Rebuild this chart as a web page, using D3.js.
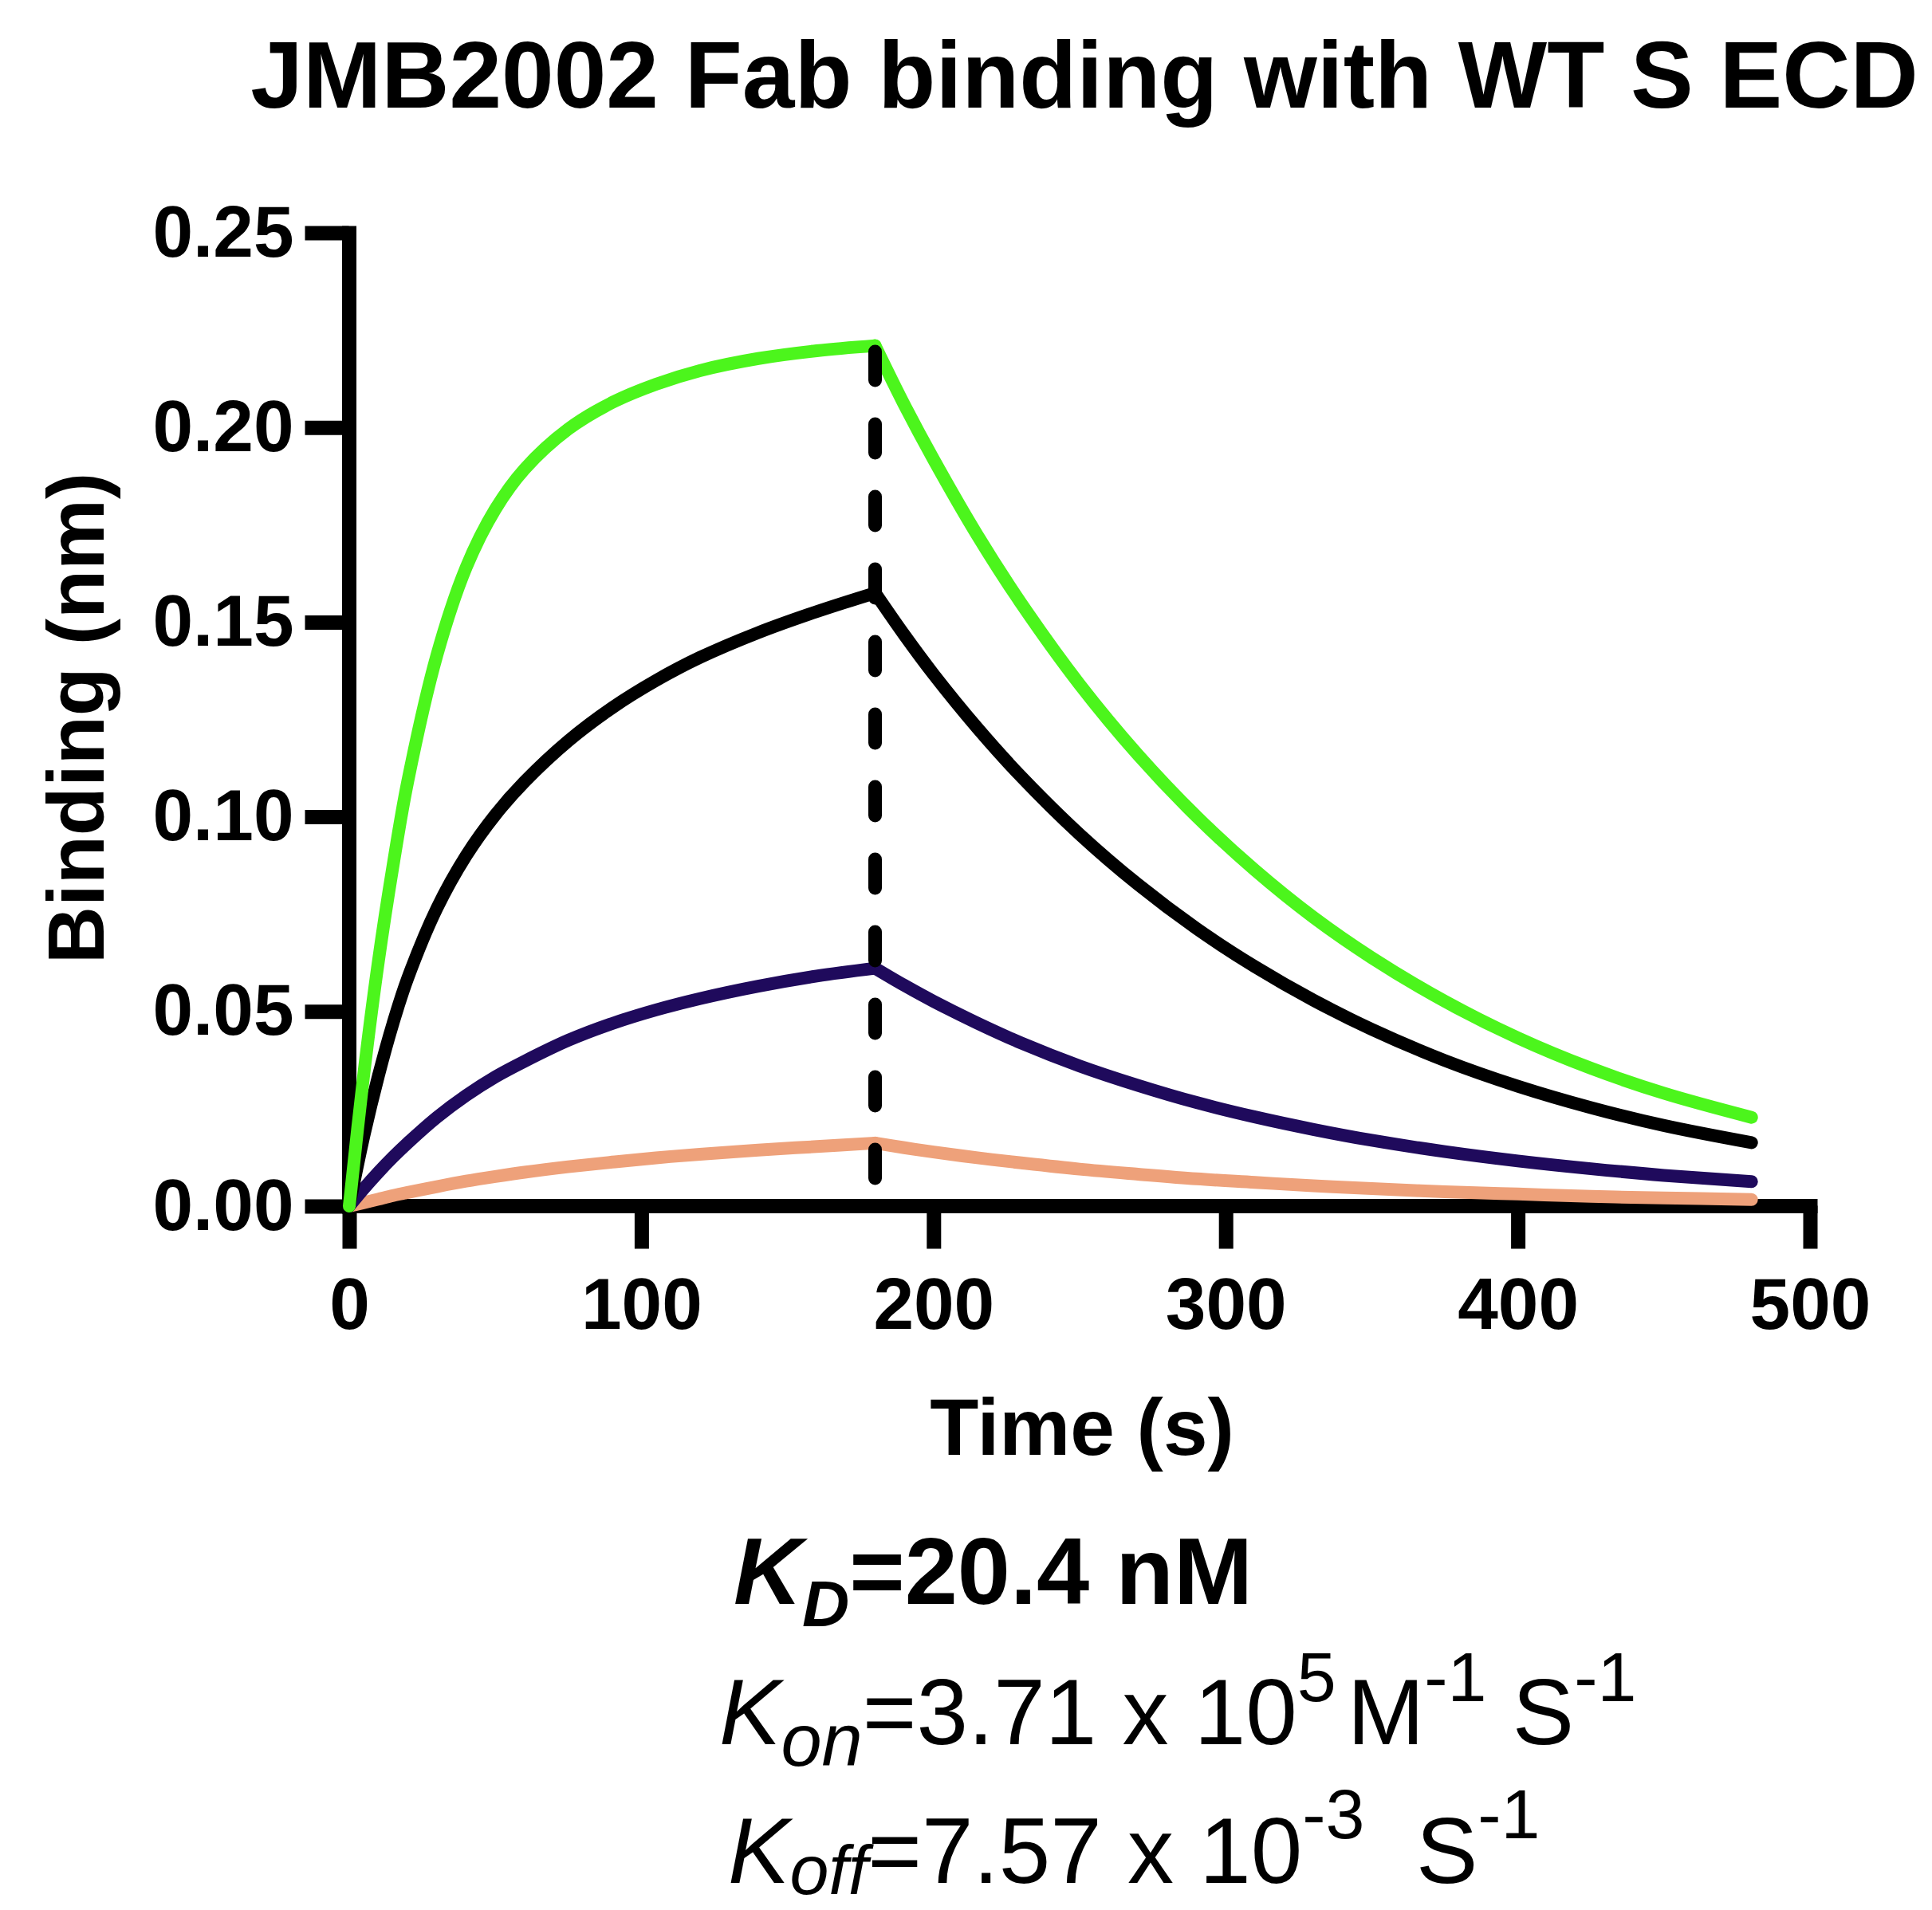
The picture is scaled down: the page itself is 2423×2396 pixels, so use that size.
<!DOCTYPE html>
<html>
<head>
<meta charset="utf-8">
<script src="https://cdn.jsdelivr.net/npm/d3@7"></script>
<style>
  html, body { margin: 0; padding: 0; background: #ffffff; }
  svg { display: block; }
  text { font-family: "Liberation Sans", Arial, Helvetica, sans-serif; fill: #000; }
</style>
</head>
<body>
<svg id="chart" width="2423" height="2396"></svg>
<script>
// ---------------- data ----------------
const titleText = "JMB2002 Fab binding with WT S ECD";
const xLabel = "Time (s)";
const yLabel = "Binding (nm)";
const xTicks = [0, 100, 200, 300, 400, 500];
const yTicks = [0.00, 0.05, 0.10, 0.15, 0.20, 0.25];
const yTickLabels = ["0.00", "0.05", "0.10", "0.15", "0.20", "0.25"];

const assocTime  = [0, 5, 10, 15, 20, 30, 40, 50, 60, 75, 90, 105, 120, 140, 160, 180];
const dissocTime = [180, 190, 200, 215, 230, 250, 270, 290, 310, 330, 350, 375, 400, 425, 450, 480];

const greenAssoc   = [0, 0.034, 0.063, 0.0875, 0.109, 0.1415, 0.164, 0.179, 0.1893, 0.1996, 0.2064, 0.2111, 0.2146, 0.2177, 0.2197, 0.2210];
const greenDissoc  = [0.2210, 0.2058, 0.1918, 0.1723, 0.1548, 0.1340, 0.1159, 0.1001, 0.0863, 0.0742, 0.0638, 0.0526, 0.0432, 0.0354, 0.0290, 0.0228];
const blackAssoc   = [0, 0.018, 0.0335, 0.047, 0.0585, 0.0765, 0.090, 0.1005, 0.109, 0.1195, 0.128, 0.135, 0.1409, 0.1473, 0.1527, 0.1575];
const blackDissoc  = [0.1575, 0.1467, 0.1366, 0.1228, 0.1103, 0.0955, 0.0826, 0.0713, 0.0615, 0.0529, 0.0454, 0.0374, 0.0308, 0.0253, 0.0207, 0.0163];
const purpleAssoc  = [0, 0.0045, 0.0087, 0.0126, 0.0162, 0.0228, 0.0284, 0.0332, 0.0372, 0.0426, 0.0469, 0.0504, 0.0533, 0.0565, 0.0591, 0.0611];
const purpleDissoc = [0.0611, 0.0567, 0.0526, 0.0470, 0.0419, 0.0360, 0.0310, 0.0266, 0.0229, 0.0197, 0.0169, 0.0140, 0.0116, 0.0096, 0.0079, 0.0063];
const orangeAssoc  = [0, 0.0009, 0.0018, 0.0027, 0.0035, 0.0050, 0.0064, 0.0076, 0.0087, 0.0101, 0.0113, 0.0124, 0.0133, 0.0144, 0.0153, 0.0162];
const orangeDissoc = [0.0162, 0.0150, 0.0139, 0.0124, 0.0111, 0.0095, 0.0082, 0.0070, 0.0061, 0.0052, 0.0045, 0.0037, 0.0031, 0.0025, 0.0021, 0.0017];

const seriesNames  = ["orange", "purple", "black", "green"];
const seriesColors = ["#eea17a", "#1f0a5c", "#000000", "#4cf51c"];

// dashed marker at end of association
const switchTime = 180;
const switchRange = [0.0037, 0.2195];

// annotation: [text, kind, extra horizontal nudge]
const kdLine   = [["K", "main", 0], ["D", "sub", 0], ["=20.4 nM", "main", 0]];
const konLine  = [["K", "main", 0], ["on", "sub", 0], ["=3.71 x 10", "main", 0], ["5", "sup", 0], ["M", "main", 14], ["-1", "sup", 0], [" S", "main", 0], ["-1", "sup", 0]];
const koffLine = [["K", "main", 0], ["off", "sub", 0], ["=7.57 x 10", "main", 0], ["-3", "sup", 0], ["\u00a0\u00a0S", "main", 0], ["-1", "sup", 0]];

// ---------------- drawing ----------------
const svg = d3.select("#chart");
svg.append("rect").attr("width", 2423).attr("height", 2396).attr("fill", "#fff");

const x = d3.scaleLinear().domain([0, 500]).range([438, 2270]);
const y = d3.scaleLinear().domain([0, 0.25]).range([1513, 292]);

// title
svg.append("text")
  .attr("x", 1360).attr("y", 135)
  .attr("text-anchor", "middle")
  .attr("font-size", 118).attr("font-weight", "bold")
  .text(titleText);

// axes
const yAxis = d3.axisLeft(y).tickValues(yTicks).tickFormat((d, i) => yTickLabels[i])
  .tickSize(55).tickSizeOuter(0).tickPadding(14);
const xAxis = d3.axisBottom(x).tickValues(xTicks).tickFormat(d3.format("d"))
  .tickSize(54).tickSizeOuter(0).tickPadding(36);

const gy = svg.append("g").attr("transform", `translate(${x(0) - 0.5},0)`).call(yAxis);
const gx = svg.append("g").attr("transform", `translate(0,${y(0) - 0.5})`).call(xAxis);

[gx, gy].forEach(g => {
  g.select(".domain").attr("stroke", "#000").attr("stroke-width", 18).attr("stroke-linecap", "square");
  g.selectAll(".tick line").attr("stroke", "#000").attr("stroke-width", 18);
  g.selectAll(".tick text").attr("font-size", 91).attr("font-weight", "bold")
    .attr("font-family", "'Liberation Sans', Arial, sans-serif").attr("fill", "#000");
});

// axis labels
svg.append("text")
  .attr("x", 1357).attr("y", 1825)
  .attr("text-anchor", "middle")
  .attr("font-size", 100).attr("font-weight", "bold")
  .text(xLabel);

svg.append("text")
  .attr("transform", "translate(130,901) rotate(-90)")
  .attr("text-anchor", "middle")
  .attr("font-size", 100).attr("font-weight", "bold")
  .text(yLabel);

// curves
const line = d3.line()
  .x(d => x(d[0]))
  .y(d => y(d[1]))
  .curve(d3.curveCatmullRom.alpha(0.5));

const phases = {
  orange: [orangeAssoc, orangeDissoc],
  purple: [purpleAssoc, purpleDissoc],
  black:  [blackAssoc, blackDissoc],
  green:  [greenAssoc, greenDissoc]
};

const gCurves = svg.append("g");
seriesNames.forEach((name, i) => {
  const [a, dz] = phases[name];
  const aPts = assocTime.map((t, j) => [t, a[j]]);
  const dPts = dissocTime.map((t, j) => [t, dz[j]]);
  [aPts, dPts].forEach(pts => {
    gCurves.append("path")
      .attr("d", line(pts))
      .attr("fill", "none")
      .attr("stroke", seriesColors[i])
      .attr("stroke-width", 16)
      .attr("stroke-linecap", "round")
      .attr("stroke-linejoin", "round");
  });
});

// dashed vertical line
svg.append("line")
  .attr("x1", x(switchTime)).attr("x2", x(switchTime))
  .attr("y1", y(switchRange[1])).attr("y2", y(switchRange[0]))
  .attr("stroke", "#000")
  .attr("stroke-width", 17)
  .attr("stroke-linecap", "round")
  .attr("stroke-dasharray", "36,55");

// annotation text
function richLine(xPos, yPos, parts, opts) {
  const t = svg.append("text").attr("x", xPos).attr("y", yPos)
    .attr("font-size", opts.main).attr("font-weight", opts.weight);
  let cur = 0;
  parts.forEach(([txt, kind, nudge]) => {
    let target = 0, size = opts.main, style = "normal";
    if (kind === "sub") { target = opts.subShift; size = opts.sub; style = "italic"; }
    if (kind === "sup") { target = opts.supShift; size = opts.sup; }
    if (txt === "K") style = "italic";
    t.append("tspan")
      .attr("dy", target - cur)
      .attr("dx", nudge)
      .attr("font-size", size)
      .attr("font-style", style)
      .text(txt);
    cur = target;
  });
}

richLine(920, 2012, kdLine,   { main: 119, sub: 82, sup: 80, subShift: 28, supShift: -50, weight: "bold" });
richLine(902, 2188, konLine,  { main: 116, sub: 92, sup: 88, subShift: 27, supShift: -54, weight: "normal" });
richLine(913, 2362, koffLine, { main: 116, sub: 88, sup: 88, subShift: 14, supShift: -56, weight: "normal" });
</script>
</body>
</html>
